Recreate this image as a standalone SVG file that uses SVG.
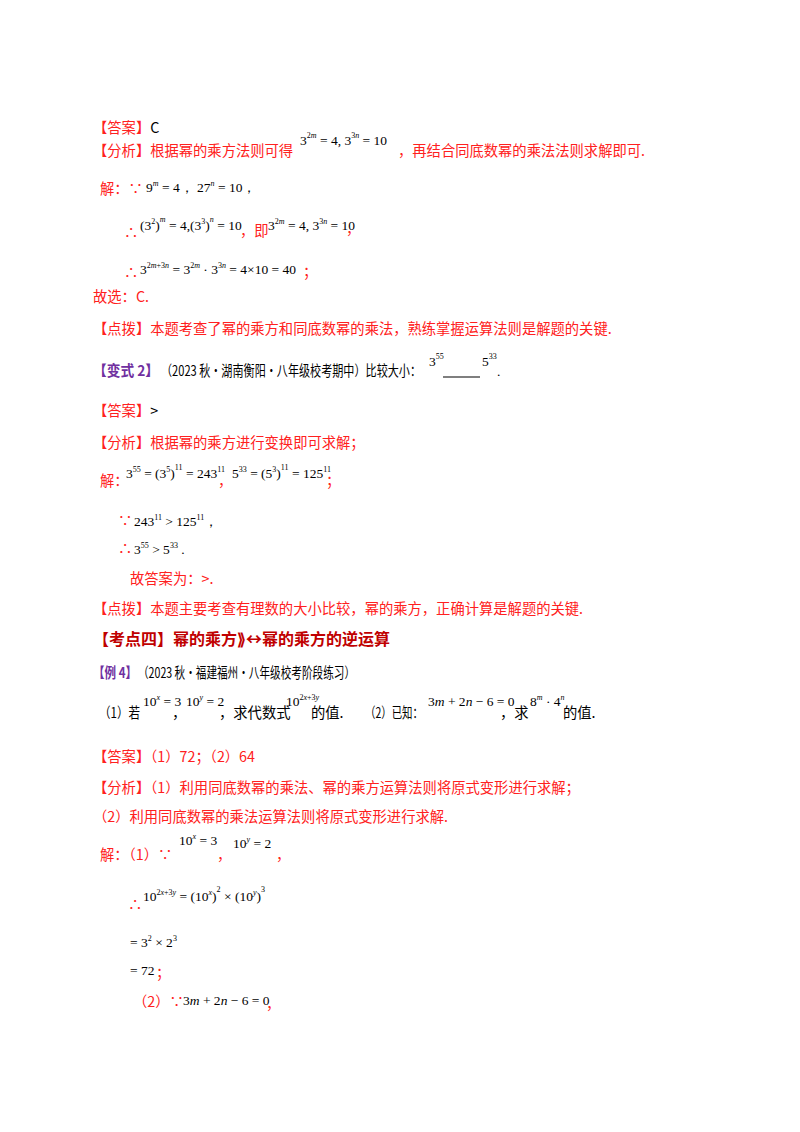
<svg xmlns="http://www.w3.org/2000/svg" width="800" height="1132" viewBox="0 0 800 1132">
<style>
text{font-family:"Noto Sans CJK SC","Liberation Sans",sans-serif;font-size:14.3px;fill:#000}
.r{fill:#ff2020}.p{fill:#7030a0;font-weight:bold}.h{fill:#c00000;font-weight:bold;font-size:16px}
.m{font-family:"Liberation Serif",serif;font-size:13.5px}
.s{font-family:"Liberation Serif",serif;font-size:8px}
.i{font-style:italic}
</style>
<rect width="800" height="1132" fill="#fff"/>
<g id="part1">
<text x="93" y="133"><tspan class="r">【答案】</tspan>C</text>
<text x="93" y="156" class="r">【分析】根据幂的乘方法则可得</text>
<text x="300" y="145" class="m">3<tspan class="s" dy="-7">2<tspan class="i">m</tspan></tspan><tspan dy="7"> = 4, 3</tspan><tspan class="s" dy="-7">3<tspan class="i">n</tspan></tspan><tspan dy="7"> = 10</tspan></text>
<text x="398" y="156" class="r">，再结合同底数幂的乘法法则求解即可.</text>
<text x="100" y="194" class="r">解：∵</text>
<text x="146" y="192" class="m">9<tspan class="s i" dy="-6">m</tspan><tspan dy="6"> = 4，  27</tspan><tspan class="s i" dy="-6">n</tspan><tspan dy="6"> = 10，</tspan></text>
<text x="124" y="238" class="r">∴</text>
<text x="140" y="230" class="m">(3<tspan class="s" dy="-6">2</tspan><tspan dy="6">)</tspan><tspan class="s i" dy="-8">m</tspan><tspan dy="8"> = 4,(3</tspan><tspan class="s" dy="-6">3</tspan><tspan dy="6">)</tspan><tspan class="s i" dy="-8">n</tspan><tspan dy="8"> = 10</tspan></text>
<text x="240" y="236" class="r">，即</text>
<text x="268" y="230" class="m">3<tspan class="s" dy="-6">2<tspan class="i">m</tspan></tspan><tspan dy="6"> = 4, 3</tspan><tspan class="s" dy="-6">3<tspan class="i">n</tspan></tspan><tspan dy="6"> = 10</tspan></text>
<text x="346" y="234" class="r">，</text>
<text x="124" y="278" class="r">∴</text>
<text x="140" y="274" class="m">3<tspan class="s" dy="-6">2<tspan class="i">m</tspan>+3<tspan class="i">n</tspan></tspan><tspan dy="6"> = 3</tspan><tspan class="s" dy="-6">2<tspan class="i">m</tspan></tspan><tspan dy="6"> · 3</tspan><tspan class="s" dy="-6">3<tspan class="i">n</tspan></tspan><tspan dy="6"> = 4×10 = 40</tspan></text>
<text x="303" y="277" class="r">；</text>
<text x="93" y="302" class="r">故选：C.</text>
<text x="93" y="334" class="r">【点拨】本题考查了幂的乘方和同底数幂的乘法，熟练掌握运算法则是解题的关键.</text>
</g>
<g id="part2">
<text x="93" y="376" class="p" textLength="66" lengthAdjust="spacingAndGlyphs">【变式 2】</text>
<text x="161" y="376" textLength="260" lengthAdjust="spacingAndGlyphs">（2023 秋·湖南衡阳·八年级校考期中）比较大小：</text>
<text x="429" y="366" class="m">3<tspan class="s" dy="-7">55</tspan></text>
<line x1="443" y1="377" x2="480" y2="377" stroke="#000" stroke-width="1.2"/>
<text x="482" y="366" class="m">5<tspan class="s" dy="-7">33</tspan></text>
<text x="497" y="376" class="m">.</text>
<text x="93" y="416"><tspan class="r">【答案】</tspan>&gt;</text>
<text x="93" y="448" class="r">【分析】根据幂的乘方进行变换即可求解；</text>
<text x="100" y="486" class="r">解：</text>
<text x="126" y="478" class="m">3<tspan class="s" dy="-6">55</tspan><tspan dy="6"> = (3</tspan><tspan class="s" dy="-6">5</tspan><tspan dy="6">)</tspan><tspan class="s" dy="-8">11</tspan><tspan dy="8"> = 243</tspan><tspan class="s" dy="-6">11</tspan></text>
<text x="218" y="486" class="r">，</text>
<text x="232" y="478" class="m">5<tspan class="s" dy="-6">33</tspan><tspan dy="6"> = (5</tspan><tspan class="s" dy="-6">3</tspan><tspan dy="6">)</tspan><tspan class="s" dy="-8">11</tspan><tspan dy="8"> = 125</tspan><tspan class="s" dy="-6">11</tspan></text>
<text x="326" y="486" class="r">；</text>
<text x="118" y="526" class="r">∵</text>
<text x="134" y="526" class="m">243<tspan class="s" dy="-6">11</tspan><tspan dy="6"> &gt; 125</tspan><tspan class="s" dy="-6">11</tspan><tspan dy="6">，</tspan></text>
<text x="118" y="554" class="r">∴</text>
<text x="134" y="554" class="m">3<tspan class="s" dy="-6">55</tspan><tspan dy="6"> &gt; 5</tspan><tspan class="s" dy="-6">33</tspan><tspan dy="6"> .</tspan></text>
<text x="130" y="584" class="r">故答案为：&gt;.</text>
<text x="93" y="614" class="r">【点拨】本题主要考查有理数的大小比较，幂的乘方，正确计算是解题的关键.</text>
</g>
<g id="part3">
<text x="93" y="645" class="h">【考点四】幂的乘方⟫↔幂的乘方的逆运算</text>
<text x="93" y="678" class="p" textLength="44" lengthAdjust="spacingAndGlyphs">【例 4】</text>
<text x="138" y="678" textLength="217" lengthAdjust="spacingAndGlyphs">（2023 秋·福建福州·八年级校考阶段练习）</text>
<text x="99" y="718" textLength="41" lengthAdjust="spacingAndGlyphs">（1）若</text>
<text x="143" y="706" class="m">10<tspan class="s i" dy="-6">x</tspan><tspan dy="6"> = 3</tspan></text>
<text x="172" y="718">，</text>
<text x="186" y="706" class="m">10<tspan class="s i" dy="-6">y</tspan><tspan dy="6"> = 2</tspan></text>
<text x="219" y="718">，求代数式</text>
<text x="286" y="706" class="m">10<tspan class="s" dy="-6">2<tspan class="i">x</tspan>+3<tspan class="i">y</tspan></tspan></text>
<text x="311" y="718">的值.</text>
<text x="365" y="718" textLength="58" lengthAdjust="spacingAndGlyphs">（2）已知：</text>
<text x="428" y="706" class="m">3<tspan class="i">m</tspan> + 2<tspan class="i">n</tspan> − 6 = 0</text>
<text x="500" y="718">，求</text>
<text x="530" y="706" class="m">8<tspan class="s i" dy="-6">m</tspan><tspan dy="6"> · 4</tspan><tspan class="s i" dy="-6">n</tspan></text>
<text x="563" y="718">的值.</text>
<text x="93" y="762" class="r">【答案】（1）72；（2）64</text>
<text x="93" y="793" class="r">【分析】（1）利用同底数幂的乘法、幂的乘方运算法则将原式变形进行求解；</text>
<text x="93" y="822" class="r">（2）利用同底数幂的乘法运算法则将原式变形进行求解.</text>
<text x="100" y="860" class="r">解：（1）∵</text>
<text x="179" y="845" class="m">10<tspan class="s i" dy="-6">x</tspan><tspan dy="6"> = 3</tspan></text>
<text x="217" y="860" class="r">，</text>
<text x="233" y="848" class="m">10<tspan class="s i" dy="-6">y</tspan><tspan dy="6"> = 2</tspan></text>
<text x="276" y="860" class="r">，</text>
<text x="128" y="910" class="r">∴</text>
<text x="143" y="901" class="m">10<tspan class="s" dy="-6">2<tspan class="i">x</tspan>+3<tspan class="i">y</tspan></tspan><tspan dy="6"> = (10</tspan><tspan class="s i" dy="-6">x</tspan><tspan dy="6">)</tspan><tspan class="s" dy="-9">2</tspan><tspan dy="9"> × (10</tspan><tspan class="s i" dy="-6">y</tspan><tspan dy="6">)</tspan><tspan class="s" dy="-9">3</tspan></text>
<text x="130" y="947" class="m">= 3<tspan class="s" dy="-6">2</tspan><tspan dy="6"> × 2</tspan><tspan class="s" dy="-6">3</tspan></text>
<text x="130" y="975" class="m">= 72</text>
<text x="156" y="978" class="r">；</text>
<text x="133" y="1007" class="r">（2）∵</text>
<text x="183" y="1005" class="m">3<tspan class="i">m</tspan> + 2<tspan class="i">n</tspan> − 6 = 0</text>
<text x="266" y="1009" class="r">，</text>
</g>
</svg>
